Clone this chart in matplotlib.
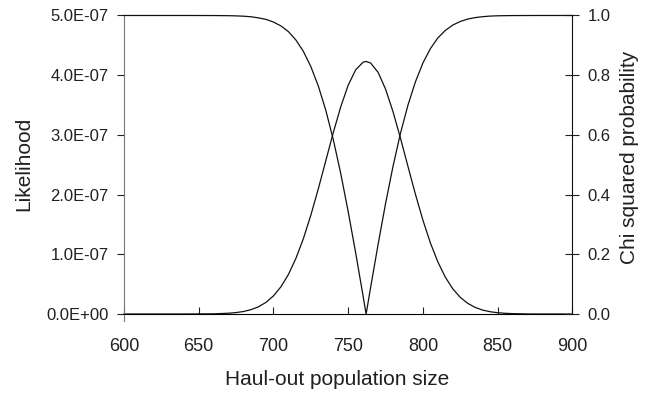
import matplotlib.pyplot as plt
from matplotlib.ticker import FuncFormatter

# population size (x) with likelihood (left axis) and chi squared probability (right axis)
pop_size = [600, 620, 640, 660, 670, 675, 680, 685, 690, 695, 700, 705, 710, 715,
            720, 725, 730, 735, 740, 745, 750, 755, 760, 762, 765, 770, 775, 780,
            785, 790, 795, 800, 805, 810, 815, 820, 825, 830, 835, 840, 845, 850,
            855, 860, 870, 880, 900]

likelihood_e7 = [0.0, 0.0, 0.0, 0.003, 0.013, 0.024, 0.042, 0.073, 0.121, 0.195,
                 0.303, 0.456, 0.662, 0.930, 1.261, 1.654, 2.096, 2.566, 3.035,
                 3.469, 3.832, 4.090, 4.218, 4.23, 4.204, 4.048, 3.767, 3.387,
                 2.943, 2.471, 2.004, 1.571, 1.190, 0.871, 0.616, 0.421, 0.278,
                 0.178, 0.110, 0.065, 0.038, 0.021, 0.012, 0.006, 0.001, 0.0, 0.0]

chi_prob = [1.0, 1.0, 1.0, 0.9998, 0.9993, 0.9987, 0.9976, 0.9957, 0.992, 0.987,
            0.978, 0.965, 0.946, 0.918, 0.880, 0.829, 0.764, 0.683, 0.585, 0.471,
            0.343, 0.205, 0.059, 0.0, 0.089, 0.233, 0.370, 0.495, 0.606, 0.700,
            0.778, 0.841, 0.889, 0.925, 0.950, 0.968, 0.980, 0.988, 0.993, 0.996,
            0.998, 0.999, 0.9994, 0.9997, 0.9999, 1.0, 1.0]

x_ticks = [600, 650, 700, 750, 800, 850, 900]
lik_ticks = [0.0, 1e-7, 2e-7, 3e-7, 4e-7, 5e-7]
prob_ticks = [0.0, 0.2, 0.4, 0.6, 0.8, 1.0]

text_col = "#231f20"
plt.rcParams["font.family"] = ["Liberation Sans", "DejaVu Sans"]

fig = plt.figure(figsize=(6.49, 3.93), dpi=100)
ax = fig.add_axes([0.191, 0.201, 0.691, 0.7596])
ax2 = ax.twinx()

lik = [v * 1e-7 for v in likelihood_e7]
ax.plot(pop_size, lik, color="#111111", linewidth=0.9, clip_on=False)
ax2.plot(pop_size, chi_prob, color="#111111", linewidth=0.9, clip_on=False)

ax.set_xlim(600, 900)
ax.set_ylim(0, 5e-7)
ax2.set_ylim(0, 1.0)

ax.set_xticks(x_ticks)
ax.set_yticks(lik_ticks)
ax2.set_yticks(prob_ticks)
ax.yaxis.set_major_formatter(FuncFormatter(lambda v, p: f"{v:.1E}"))
ax2.yaxis.set_major_formatter(FuncFormatter(lambda v, p: f"{v:.1f}"))

for a in (ax, ax2):
    a.spines["top"].set_visible(False)
ax.spines["right"].set_visible(False)
ax.spines["left"].set_color("#777777")
ax.spines["left"].set_bounds(-0.12e-7, 5e-7)
ax2.spines["left"].set_visible(False)
ax2.spines["right"].set_color("#111111")
ax2.spines["bottom"].set_visible(False)

ax.tick_params(axis="x", direction="in", length=5, width=0.8, pad=17,
               labelsize=13, colors=text_col)
ax.tick_params(axis="y", direction="out", length=5, width=0.8, pad=6,
               labelsize=12, colors=text_col)
ax2.tick_params(axis="y", direction="inout", length=10, width=0.8, pad=6,
                labelsize=12, colors=text_col)

ax.set_xlabel("Haul-out population size", fontsize=15, color=text_col)
ax.set_ylabel("Likelihood", fontsize=15, color=text_col)
ax2.set_ylabel("Chi squared probability", fontsize=15, color=text_col)

ax.xaxis.set_label_coords(0.476, -0.221)
ax.yaxis.set_label_coords(-0.223, 0.502)
ax2.yaxis.set_label_coords(1.127, 0.526)
for lab in (ax.xaxis.label, ax.yaxis.label, ax2.yaxis.label):
    lab.set_va("center")
    lab.set_ha("center")

fig.savefig("out.png", dpi=100)
